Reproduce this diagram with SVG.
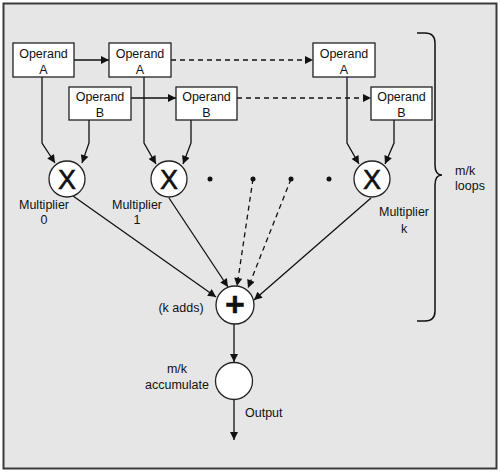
<svg xmlns="http://www.w3.org/2000/svg" width="500" height="473" viewBox="0 0 500 473">
<defs>
<marker id="ah" viewBox="0 0 10 10" refX="10" refY="5" markerWidth="9" markerHeight="8" markerUnits="userSpaceOnUse" orient="auto"><path d="M0,0 L10,5 L0,10 z" fill="#111"/></marker>
<style>
.box{fill:#fff;stroke:#222;stroke-width:1.3}
.circ{fill:#fff;stroke:#222;stroke-width:1.3}
.t{font-family:"Liberation Sans",Arial,sans-serif;font-size:12.5px;fill:#111;text-anchor:middle}
.big{font-family:"Liberation Sans",Arial,sans-serif;font-size:27px;fill:#111;stroke:#111;stroke-width:0.6;text-anchor:middle}
.ln{fill:none;stroke:#111;stroke-width:1.3;marker-end:url(#ah)}
.dl{fill:none;stroke:#111;stroke-width:1.3;stroke-dasharray:5,4;marker-end:url(#ah)}
.dot{fill:#111}
</style>
</defs>
<rect x="3.5" y="3.5" width="493" height="465" fill="#e6e6e6" stroke="#3a3a3a" stroke-width="2"/>
<g id="connectors">
<path class="ln" d="M74,60 H109"/>
<path class="dl" d="M171,60 H313"/>
<path class="ln" d="M131,98 H176"/>
<path class="dl" d="M237,98 H371"/>
<path class="ln" d="M42,77 V143 L55,163"/>
<path class="ln" d="M89,120 V143 L82,163"/>
<path class="ln" d="M144,77 V143 L156,164"/>
<path class="ln" d="M191,120 V143 L183,164"/>
<path class="ln" d="M347,77 V143 L359,164"/>
<path class="ln" d="M394,120 V143 L385,164"/>
<path class="ln" d="M73,196 L216,297"/>
<path class="ln" d="M169,198 L228,287"/>
<path class="dl" d="M253,179 L237,286"/>
<path class="dl" d="M291,179 L248,288"/>
<path class="ln" d="M371,198 L254,300"/>
<path class="ln" d="M234,324 V362"/>
<path class="ln" d="M234,400 V440"/>
</g>
<g id="opA0"><rect class="box" x="13" y="43" width="61" height="34"/><text class="t" x="43.5" y="58">Operand</text><text class="t" x="43.5" y="74">A</text></g>
<g id="opA1"><rect class="box" x="109" y="43" width="62" height="34"/><text class="t" x="140" y="58">Operand</text><text class="t" x="140" y="74">A</text></g>
<g id="opAk"><rect class="box" x="313" y="43" width="62" height="34"/><text class="t" x="344" y="58">Operand</text><text class="t" x="344" y="74">A</text></g>
<g id="opB0"><rect class="box" x="69" y="87" width="62" height="33"/><text class="t" x="100" y="101">Operand</text><text class="t" x="100" y="117">B</text></g>
<g id="opB1"><rect class="box" x="176" y="87" width="61" height="33"/><text class="t" x="206.5" y="101">Operand</text><text class="t" x="206.5" y="117">B</text></g>
<g id="opBk"><rect class="box" x="371" y="87" width="61" height="33"/><text class="t" x="401.5" y="101">Operand</text><text class="t" x="401.5" y="117">B</text></g>
<g id="mul0"><circle class="circ" cx="67" cy="179" r="18"/><text class="big" x="67" y="189">X</text><text class="t" x="44" y="209">Multiplier</text><text class="t" x="44" y="224">0</text></g>
<g id="mul1"><circle class="circ" cx="169" cy="179" r="18"/><text class="big" x="169" y="189">X</text><text class="t" x="137" y="209">Multiplier</text><text class="t" x="137" y="224">1</text></g>
<g id="mulk"><circle class="circ" cx="372" cy="179" r="18"/><text class="big" x="372" y="189">X</text><text class="t" x="404" y="216">Multiplier</text><text class="t" x="404" y="233">k</text></g>
<g id="dots"><circle class="dot" cx="210" cy="179" r="2.5"/><circle class="dot" cx="253" cy="179" r="2.5"/><circle class="dot" cx="291" cy="179" r="2.5"/><circle class="dot" cx="329" cy="179" r="2.5"/></g>
<g id="adder"><circle class="circ" cx="235" cy="305" r="19"/><text class="big" x="235" y="316" font-weight="bold" style="font-size:34px;stroke-width:0.4">+</text><text class="t" x="181" y="312">(k adds)</text></g>
<g id="acc"><circle class="circ" cx="234" cy="381" r="18.5"/><text class="t" x="177" y="373">m/k</text><text class="t" x="177" y="389">accumulate</text></g>
<g id="output"><text class="t" x="245" y="417" style="text-anchor:start">Output</text></g>
<g id="brace"><path d="M417,33 H425 Q435,33 435,43 V165 Q435,175 442,175 Q435,175 435,185 V311 Q435,321 425,321 H417" fill="none" stroke="#111" stroke-width="1.5"/><text class="t" x="455" y="175" style="text-anchor:start">m/k</text><text class="t" x="455" y="190" style="text-anchor:start">loops</text></g>
</svg>
